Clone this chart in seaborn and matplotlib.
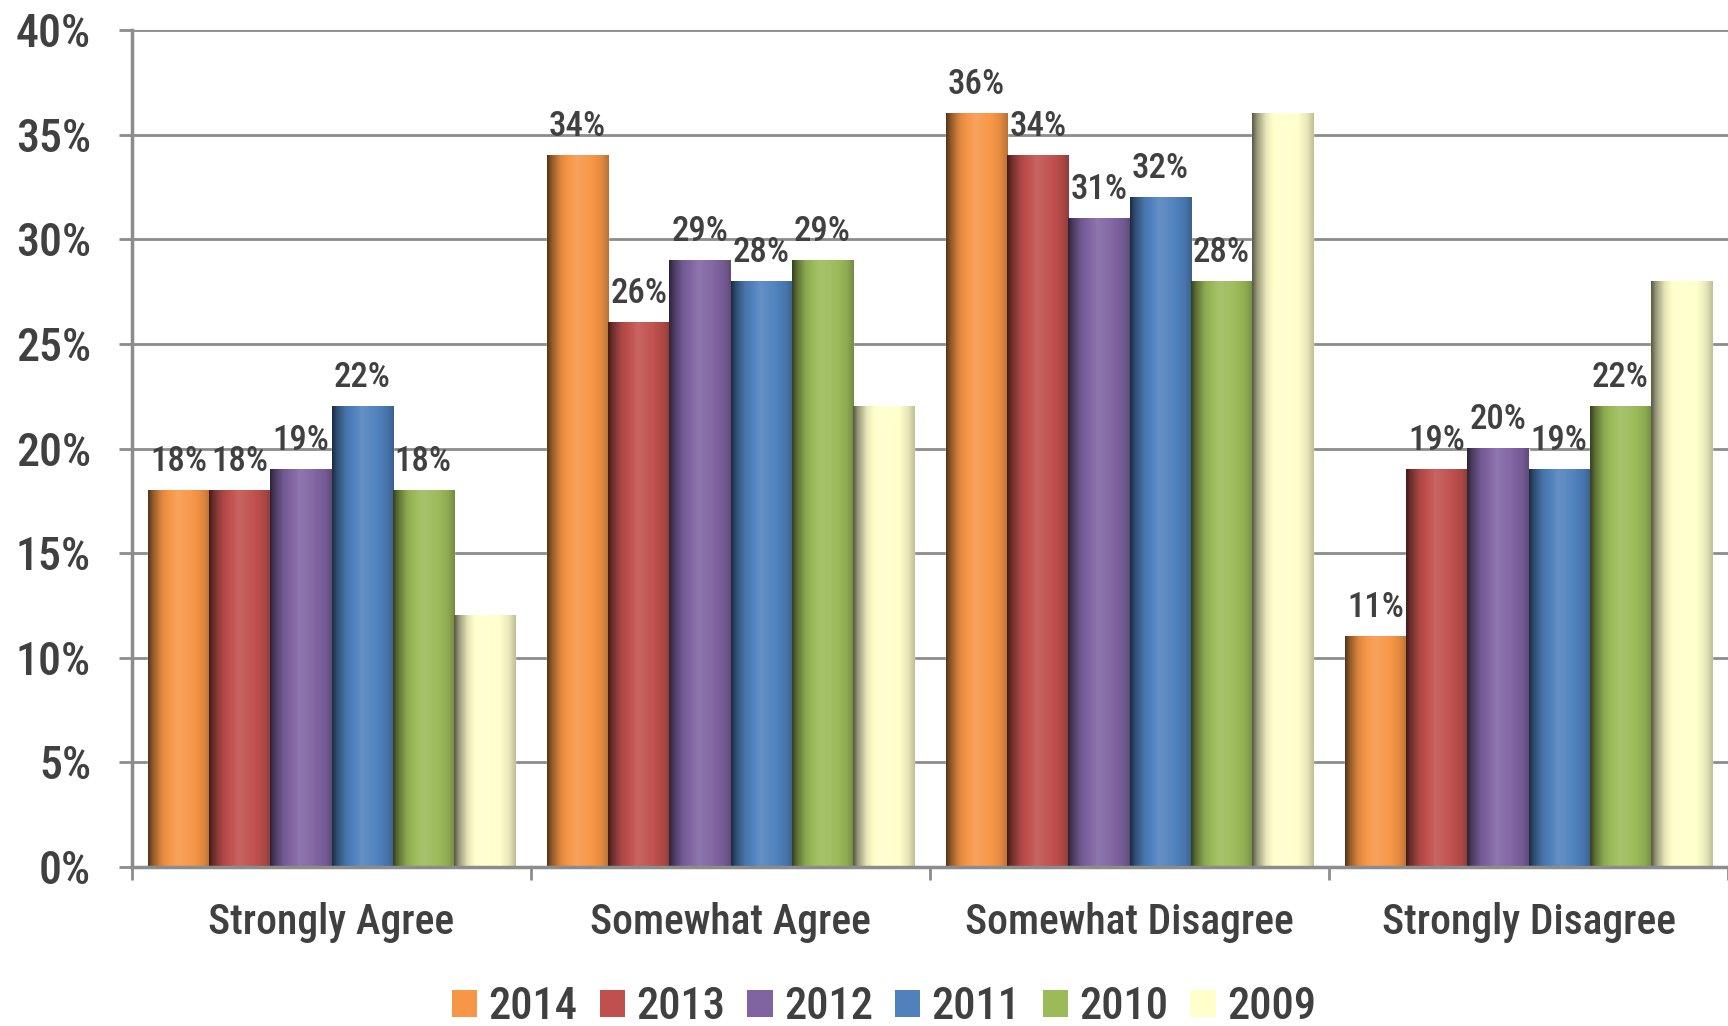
import numpy as np
import pandas as pd
import matplotlib
matplotlib.use('Agg')
import matplotlib.pyplot as plt
from matplotlib import font_manager
from matplotlib.colors import to_rgb
from matplotlib.patches import Patch
import seaborn as sns

# data
categories = ['Strongly Agree', 'Somewhat Agree', 'Somewhat Disagree', 'Strongly Disagree']
years = ['2014', '2013', '2012', '2011', '2010', '2009']
v2014 = [18, 34, 36, 11]
v2013 = [18, 26, 34, 19]
v2012 = [19, 29, 31, 20]
v2011 = [22, 28, 32, 19]
v2010 = [18, 29, 28, 22]
v2009 = [12, 22, 36, 28]
colors = ['#F79646', '#C0504D', '#8064A2', '#4F81BD', '#9BBB59', '#FFFFCC']
y_ticks = [0, 5, 10, 15, 20, 25, 30, 35, 40]

sns.set_style('white')
names = {f.name for f in font_manager.fontManager.ttflist}
font = 'DejaVu Sans'
for cand in ['Roboto Condensed', 'Liberation Sans Narrow', 'Open Sans Condensed', 'Liberation Sans']:
    if cand in names:
        font = cand
        break
plt.rcParams['font.family'] = [font, 'DejaVu Sans']
plt.rcParams['font.weight'] = 'medium'
txt_col = '#404040'
grid_col = '#8c8c8c'

series = [v2014, v2013, v2012, v2011, v2010, v2009]
rows = []
for yr, vals in zip(years, series):
    for cat, v in zip(categories, vals):
        rows.append({'category': cat, 'year': yr, 'value': v})
df = pd.DataFrame(rows)

fig = plt.figure(figsize=(17.28, 10.26), dpi=100)
ax = fig.add_axes([132 / 1728, 1 - 867 / 1026, 1 - 132 / 1728, (867 - 30) / 1026])

sns.barplot(data=df, x='category', y='value', hue='year', order=categories, hue_order=years,
            palette=colors, width=0.92, gap=0, saturation=1, legend=False, ax=ax, zorder=2)


def shade(col, n=80):
    # cylinder-like shading across the bar width
    pos = [0, 0.07, 0.22, 0.48, 0.72, 0.9, 1.0]
    fac = [0.35, 0.58, 0.9, 1.12, 1.02, 0.9, 0.75]
    f = np.interp(np.linspace(0, 1, n), pos, fac)
    c = np.array(to_rgb(col))
    out = np.zeros((1, n, 3))
    for i, k in enumerate(f):
        if k <= 1:
            out[0, i] = c * k
        else:
            out[0, i] = c + (1 - c) * (k - 1)
    return np.clip(out, 0, 1)


for cont, col in zip(ax.containers, colors):
    img = shade(col)
    for p in cont.patches:
        x, w, h = p.get_x(), p.get_width(), p.get_height()
        ax.imshow(img, extent=[x, x + w, 0, h], aspect='auto', zorder=3, interpolation='bilinear')

# value labels (no labels on 2009 series)
for cont, vals in zip(ax.containers[:5], series[:5]):
    ax.bar_label(cont, labels=[f'{v}%' for v in vals], padding=9, fontsize=25, color=txt_col, zorder=5)

ax.set_xlim(-0.5, 3.5)
ax.set_ylim(0, 40)
ax.set_yticks(y_ticks)
ax.set_yticklabels([f'{t}%' for t in y_ticks])
ax.set_xticks(range(len(categories)))
ax.set_xticklabels(categories)
ax.set_xticks([-0.5, 0.5, 1.5, 2.5, 3.5], minor=True)
ax.set_xlabel('')
ax.set_ylabel('')

ax.grid(axis='y', color=grid_col, lw=2, zorder=0)
ax.set_axisbelow(True)
for s in ['top', 'right']:
    ax.spines[s].set_visible(False)
for s in ['left', 'bottom']:
    ax.spines[s].set_color(grid_col)
    ax.spines[s].set_linewidth(2.5)
    ax.spines[s].set_zorder(4)

ax.tick_params(axis='y', which='major', direction='out', length=9.5, width=2, color=grid_col,
               labelsize=33, labelcolor=txt_col, pad=20, left=True)
ax.tick_params(axis='x', which='major', length=0, labelsize=30, labelcolor=txt_col, pad=25)
ax.tick_params(axis='x', which='minor', direction='out', length=9, width=2, color=grid_col, bottom=True)

handles = [Patch(facecolor=c, edgecolor='none') for c in colors]
fig.legend(handles, years, loc='center', bbox_to_anchor=(884 / 1728, 1 - 1007 / 1026), ncol=6,
           frameon=False, fontsize=32, labelcolor=txt_col, handlelength=0.57, handleheight=0.57,
           handletextpad=0.25, columnspacing=0.5)

fig.savefig('out.png', dpi=100)
